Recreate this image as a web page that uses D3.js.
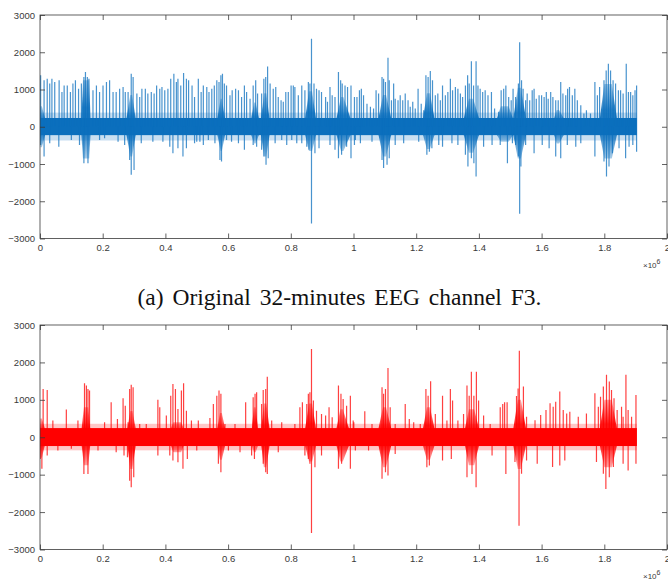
<!DOCTYPE html>
<html lang="en">
<head>
<meta charset="UTF-8">
<title>EEG channel F3</title>
<script src="https://cdn.jsdelivr.net/npm/d3@7"></script>
<style>
body{margin:0;background:#fff;}
.tick text{font-family:"Liberation Sans",Arial,sans-serif;font-size:9.5px;fill:#3a3a3a;}
.tick line{stroke:#3a3a3a;stroke-width:0.8px;}
.frame{fill:none;stroke:#3a3a3a;stroke-width:0.8px;}
.caption{font-family:"Liberation Serif","Times New Roman",serif;font-size:23.5px;word-spacing:3px;fill:#111;}
.expo{font-family:"Liberation Sans",Arial,sans-serif;font-size:8px;fill:#3a3a3a;}
</style>
</head>
<body>
<svg width="668" height="580"></svg>
<script>
// x values are in units of 10^6 samples, y in microvolts
var xTicks = [0, 0.2, 0.4, 0.6, 0.8, 1, 1.2, 1.4, 1.6, 1.8, 2];
var yTicks = [-3000, -2000, -1000, 0, 1000, 2000, 3000];
var signalEnd = 1.904;
var caption = "(a) Original 32-minutes EEG channel F3.";

// dense background band [upper, lower] and its ragged fringe
var coreA = [235, -225];
var fringeA = [380, -370];
var coreB = [245, -235];
var fringeB = [360, -350];

// bursts: [start, plateauStart, plateauEnd, end, top, bottom]
var burstsA = [
  [0.000, 0.001, 0.006, 0.016, 550, -550],
  [0.132, 0.137, 0.157, 0.161, 1250, -850],
  [0.276, 0.288, 0.294, 0.305, 850, -800],
  [0.566, 0.576, 0.580, 0.590, 750, -650],
  [0.674, 0.683, 0.688, 0.698, 650, -450],
  [0.705, 0.715, 0.722, 0.732, 900, -800],
  [0.846, 0.858, 0.868, 0.880, 950, -650],
  [0.946, 0.960, 0.968, 0.990, 800, -650],
  [1.080, 1.094, 1.104, 1.120, 850, -800],
  [1.222, 1.234, 1.244, 1.258, 900, -600],
  [1.352, 1.368, 1.382, 1.400, 750, -700],
  [1.458, 1.470, 1.495, 1.508, 550, -400],
  [1.510, 1.524, 1.534, 1.550, 1050, -850],
  [1.640, 1.648, 1.656, 1.670, 450, -450],
  [1.786, 1.800, 1.824, 1.840, 1150, -850]
];
var burstsB = [
  [0.000, 0.001, 0.006, 0.015, 500, -550],
  [0.133, 0.140, 0.154, 0.160, 800, -750],
  [0.279, 0.288, 0.295, 0.305, 700, -850],
  [0.418, 0.425, 0.450, 0.458, 400, -400],
  [0.566, 0.574, 0.580, 0.590, 650, -600],
  [0.676, 0.682, 0.688, 0.695, 800, -400],
  [0.706, 0.714, 0.722, 0.732, 900, -800],
  [0.846, 0.858, 0.868, 0.880, 900, -650],
  [0.946, 0.958, 0.966, 0.985, 750, -650],
  [1.080, 1.094, 1.104, 1.120, 800, -800],
  [1.222, 1.234, 1.244, 1.258, 800, -600],
  [1.356, 1.368, 1.385, 1.400, 750, -750],
  [1.510, 1.524, 1.534, 1.550, 1000, -850],
  [1.786, 1.800, 1.824, 1.840, 1000, -800]
];

// spikes [x, peak]
var upA = [
  [0.002,1380],[0.013,1250],[0.023,1290],[0.031,1160],[0.038,1290],[0.047,1200],[0.061,1250],[0.070,930],
  [0.077,1110],[0.087,1110],[0.097,930],[0.105,1160],[0.113,1250],[0.123,1020],[0.132,1160],[0.140,1335],
  [0.145,1470],[0.151,1335],[0.156,1290],[0.169,980],[0.180,1110],[0.190,930],[0.201,1110],[0.212,1200],
  [0.222,1250],[0.233,930],[0.243,930],[0.254,1020],[0.265,1070],[0.272,930],[0.281,930],[0.291,1420],
  [0.297,1335],[0.309,890],[0.318,800],[0.325,1020],[0.336,1020],[0.344,890],[0.355,930],[0.364,890],
  [0.372,1110],[0.382,1020],[0.389,1070],[0.398,980],[0.408,1020],[0.417,1290],[0.427,1420],[0.435,1200],
  [0.440,1290],[0.449,1110],[0.458,1440],[0.467,1290],[0.474,1250],[0.485,1110],[0.493,800],
  [0.505,1290],[0.514,935],[0.521,1110],[0.532,1070],[0.539,935],[0.548,1020],[0.556,1110],[0.564,1250],
  [0.571,1200],[0.577,1380],[0.582,1425],[0.588,1160],[0.595,1110],[0.606,845],[0.613,980],[0.624,1020],
  [0.633,980],[0.643,800],[0.652,1110],[0.659,935],[0.670,755],[0.680,1110],[0.688,1250],[0.694,890],
  [0.707,890],[0.714,1290],[0.720,1335],[0.726,1620],[0.734,1160],[0.744,1020],[0.752,1070],[0.760,800],
  [0.769,710],[0.776,670],[0.784,935],[0.792,935],[0.801,1110],[0.808,1110],[0.813,1070],[0.824,845],
  [0.835,1110],[0.845,980],[0.856,1200],[0.861,1160],[0.866,2360],[0.874,1160],[0.882,1020],[0.890,980],
  [0.898,935],[0.911,800],[0.917,670],[0.925,1070],[0.932,845],[0.941,800],[0.952,1470],[0.959,1250],
  [0.964,1160],[0.973,1110],[0.981,1070],[0.992,1110],[1.003,800],
  [1.011,800],[1.019,980],[1.025,1020],[1.032,845],[1.043,620],[1.054,535],[1.064,490],[1.072,980],
  [1.080,890],[1.091,1335],[1.096,1290],[1.102,1200],[1.110,1850],[1.114,1250],[1.121,710],[1.128,1160],
  [1.133,755],[1.142,710],[1.149,845],[1.157,710],[1.165,890],[1.174,710],[1.181,535],[1.189,670],
  [1.197,490],[1.206,1020],[1.216,620],[1.224,445],[1.231,1380],[1.238,1335],[1.245,1500],[1.252,1250],
  [1.261,845],[1.269,890],[1.277,710],[1.284,1110],[1.293,845],[1.301,935],[1.309,1290],[1.316,980],
  [1.325,1070],[1.333,1020],[1.341,890],[1.348,800],[1.357,1110],[1.364,1380],[1.369,1160],[1.376,1760],
  [1.383,1110],[1.391,1760],[1.397,1110],[1.404,1020],[1.412,935],[1.420,980],[1.429,845],[1.440,935],
  [1.450,490],[1.463,400],[1.471,980],[1.479,1020],[1.486,1110],[1.495,800],[1.503,710],
  [1.509,1020],[1.517,800],[1.526,1160],[1.530,2270],[1.536,1250],[1.541,1020],[1.549,710],[1.554,890],
  [1.562,710],[1.570,980],[1.576,1020],[1.583,755],[1.592,845],[1.600,845],[1.608,800],[1.615,935],
  [1.621,755],[1.629,935],[1.636,800],[1.645,710],[1.653,710],[1.661,1200],[1.668,890],[1.677,845],
  [1.683,1020],[1.689,1070],[1.698,845],[1.706,1020],[1.714,710],[1.725,580],[1.735,355],[1.743,445],
  [1.756,355],[1.770,1200],[1.778,845],[1.785,1070],[1.799,1250],[1.806,1510],[1.813,1690],[1.820,1510],
  [1.828,1250],[1.836,1160],[1.845,980],[1.852,980],[1.860,890],[1.870,1690],[1.877,935],[1.884,935],
  [1.891,845],[1.898,980],[1.903,1110]
];
var downA = [
  [0.002,-490],[0.013,-800],[0.031,-445],[0.060,-535],[0.100,-355],[0.126,-490],[0.140,-980],[0.153,-980],
  [0.190,-355],[0.206,-310],[0.249,-400],[0.270,-490],[0.286,-890],[0.291,-1290],[0.300,-1160],[0.323,-445],
  [0.360,-400],[0.392,-400],[0.414,-535],[0.424,-710],[0.440,-580],[0.456,-800],[0.467,-580],[0.493,-445],
  [0.500,-400],[0.510,-400],[0.521,-490],[0.537,-355],[0.558,-445],[0.574,-890],[0.579,-935],[0.595,-355],
  [0.611,-400],[0.633,-445],[0.652,-620],[0.680,-490],[0.691,-535],[0.707,-620],[0.714,-800],[0.721,-1020],
  [0.728,-845],[0.750,-445],[0.771,-355],[0.787,-490],[0.803,-355],[0.819,-445],[0.835,-445],[0.851,-535],
  [0.858,-620],[0.866,-2600],[0.877,-710],[0.890,-580],[0.925,-490],[0.941,-620],[0.952,-845],[0.962,-755],
  [0.978,-535],[0.992,-845],[1.003,-490],
  [1.006,-355],[1.022,-445],[1.059,-400],[1.091,-890],[1.096,-1110],[1.107,-1020],[1.114,-845],[1.133,-490],
  [1.160,-445],[1.208,-400],[1.234,-755],[1.242,-670],[1.250,-580],[1.272,-490],[1.284,-535],[1.314,-445],
  [1.333,-490],[1.357,-755],[1.365,-1070],[1.376,-845],[1.384,-980],[1.391,-1335],[1.415,-535],[1.442,-490],
  [1.468,-490],[1.491,-980],
  [1.507,-445],[1.517,-490],[1.526,-800],[1.530,-2335],[1.534,-1070],[1.549,-490],[1.576,-710],[1.602,-490],
  [1.624,-580],[1.645,-800],[1.661,-845],[1.682,-490],[1.709,-535],[1.725,-445],[1.770,-800],[1.799,-935],
  [1.807,-1335],[1.815,-1070],[1.826,-710],[1.847,-580],[1.868,-845],[1.879,-535],[1.891,-490],[1.903,-670]
];
var upB = [
  [0.010,1290],[0.023,1265],[0.041,445],[0.084,740],[0.121,445],[0.142,1440],[0.148,1380],[0.153,1290],
  [0.158,1250],[0.206,400],[0.227,935],[0.247,490],[0.265,1040],[0.272,845],[0.281,400],[0.286,1290],
  [0.291,1400],[0.297,1335],[0.318,355],[0.339,355],[0.376,1000],[0.382,800],[0.403,580],[0.417,1110],
  [0.424,1425],[0.432,1290],[0.440,755],[0.451,1250],[0.458,1440],[0.467,710],[0.483,445],
  [0.505,445],[0.542,515],[0.553,890],[0.564,1110],[0.571,1250],[0.577,1160],[0.590,355],[0.622,355],
  [0.656,935],[0.680,1070],[0.686,1160],[0.691,1200],[0.707,890],[0.712,1265],[0.720,1290],[0.725,1620],
  [0.739,445],[0.771,400],[0.813,355],[0.829,800],[0.837,935],[0.851,890],[0.856,1160],[0.861,1200],
  [0.866,2360],[0.872,980],[0.882,710],[0.898,620],[0.911,580],[0.922,800],[0.932,535],[0.952,1380],
  [0.960,1160],[0.967,1020],[0.978,845],[0.990,1110],[0.999,445],
  [1.001,400],[1.036,695],[1.059,355],[1.091,1335],[1.096,1160],[1.102,1290],[1.110,1850],[1.117,800],
  [1.133,355],[1.165,890],[1.178,490],[1.192,400],[1.213,355],[1.231,1290],[1.238,1110],[1.246,1500],
  [1.261,620],[1.284,1110],[1.298,445],[1.309,1290],[1.316,980],[1.333,445],[1.351,620],[1.362,1380],
  [1.369,1110],[1.376,1750],[1.384,1110],[1.392,1750],[1.399,980],[1.415,580],[1.436,355],[1.468,800],
  [1.476,890],[1.482,935],[1.490,935],
  [1.520,1100],[1.525,1300],[1.529,2314],[1.542,1354],[1.552,547],[1.579,457],[1.597,592],[1.614,727],
  [1.627,906],[1.637,816],[1.645,951],[1.658,1220],[1.669,727],[1.680,637],[1.690,682],[1.717,547],
  [1.743,637],[1.770,1175],[1.781,816],[1.788,1085],[1.797,1354],[1.807,1668],[1.816,1489],[1.823,1265],
  [1.831,1040],[1.841,727],[1.855,816],[1.860,547],[1.869,1668],[1.876,727],[1.887,547],[1.901,1130]
];
var downB = [
  [0.001,-580],[0.006,-845],[0.023,-490],[0.057,-355],[0.100,-310],[0.140,-980],[0.153,-980],[0.185,-355],
  [0.243,-400],[0.268,-490],[0.279,-535],[0.286,-1160],[0.291,-1335],[0.299,-1070],[0.376,-490],[0.414,-490],
  [0.424,-620],[0.440,-670],[0.456,-845],[0.470,-580],
  [0.500,-355],[0.569,-710],[0.577,-935],[0.601,-355],[0.638,-400],[0.675,-490],[0.684,-580],[0.712,-710],
  [0.720,-935],[0.725,-980],[0.760,-400],[0.845,-490],[0.856,-580],[0.861,-710],[0.866,-2560],[0.877,-800],
  [0.898,-490],[0.952,-845],[0.962,-710],[0.990,-845],
  [1.006,-355],[1.048,-355],[1.091,-1110],[1.102,-935],[1.110,-1020],[1.133,-445],[1.234,-800],[1.242,-755],
  [1.284,-620],[1.312,-580],[1.362,-1070],[1.378,-980],[1.391,-1335],[1.442,-490],[1.486,-980],
  [1.515,-664],[1.528,-2368],[1.536,-978],[1.552,-619],[1.586,-709],[1.635,-798],[1.658,-753],[1.674,-619],
  [1.775,-664],[1.797,-978],[1.805,-1381],[1.816,-1067],[1.829,-798],[1.860,-709],[1.876,-888],[1.901,-709]
];

var svg = d3.select("svg");
var defs = svg.append("defs");
var x = d3.scaleLinear().domain([0, 2]).range([40, 667]);

function drawPanel(id, top, bottom, color, core, fringe, bursts, ups, downs){
  var y = d3.scaleLinear().domain([-3000, 3000]).range([bottom, top]);
  var g = svg.append("g");

  defs.append("clipPath").attr("id", "clip" + id)
    .append("rect").attr("x", x(0)).attr("y", top)
    .attr("width", x(2) - x(0)).attr("height", bottom - top);

  // bursts fade towards their tips, like the thinning spikes
  var grad = defs.append("linearGradient").attr("id", "fade" + id)
    .attr("x1", 0).attr("x2", 0).attr("y1", 0).attr("y2", 1);
  grad.append("stop").attr("offset", "0%").attr("stop-color", color).attr("stop-opacity", 0.35);
  grad.append("stop").attr("offset", "35%").attr("stop-color", color).attr("stop-opacity", 0.9);
  grad.append("stop").attr("offset", "65%").attr("stop-color", color).attr("stop-opacity", 0.9);
  grad.append("stop").attr("offset", "100%").attr("stop-color", color).attr("stop-opacity", 0.35);

  var plot = g.append("g").attr("clip-path", "url(#clip" + id + ")");

  plot.append("rect")
    .attr("x", x(0)).attr("width", x(signalEnd) - x(0))
    .attr("y", y(fringe[0])).attr("height", y(fringe[1]) - y(fringe[0]))
    .attr("fill", color).attr("fill-opacity", 0.22);

  plot.append("rect")
    .attr("x", x(0)).attr("width", x(signalEnd) - x(0))
    .attr("y", y(core[0])).attr("height", y(core[1]) - y(core[0]))
    .attr("fill", color);

  var line = d3.line().x(function(d){ return x(d[0]); }).y(function(d){ return y(d[1]); });
  plot.selectAll("path.burst").data(bursts).enter().append("path")
    .attr("class", "burst")
    .attr("d", function(b){
      return line([[b[0], core[0]], [b[1], b[4]], [b[2], b[4]], [b[3], core[0]],
                   [b[3], core[1]], [b[2], b[5]], [b[1], b[5]], [b[0], core[1]]]) + "Z";
    })
    .attr("fill", "url(#fade" + id + ")");

  plot.selectAll("line.spike").data(ups.concat(downs)).enter().append("line")
    .attr("class", "spike")
    .attr("x1", function(d){ return x(d[0]); }).attr("x2", function(d){ return x(d[0]); })
    .attr("y1", y(0)).attr("y2", function(d){ return y(d[1]); })
    .attr("stroke", color).attr("stroke-width", 1.2).attr("stroke-opacity", 0.75);

  // axes, MATLAB style ticks pointing inwards
  g.append("g").attr("transform", "translate(0," + bottom + ")")
    .call(d3.axisBottom(x).tickValues(xTicks).tickSizeInner(-5).tickSizeOuter(0).tickPadding(6)
      .tickFormat(d3.format("~g")))
    .call(function(a){ a.select(".domain").remove(); });
  g.append("g").attr("transform", "translate(0," + top + ")")
    .call(d3.axisTop(x).tickValues(xTicks).tickSizeInner(-5).tickSizeOuter(0).tickFormat(""))
    .call(function(a){ a.select(".domain").remove(); });
  g.append("g").attr("transform", "translate(" + x(0) + ",0)")
    .call(d3.axisLeft(y).tickValues(yTicks).tickSizeInner(-5).tickSizeOuter(0).tickPadding(5)
      .tickFormat(d3.format("d")))
    .call(function(a){ a.select(".domain").remove(); });
  g.append("g").attr("transform", "translate(" + x(2) + ",0)")
    .call(d3.axisRight(y).tickValues(yTicks).tickSizeInner(-5).tickSizeOuter(0).tickFormat(""))
    .call(function(a){ a.select(".domain").remove(); });

  g.append("rect").attr("class", "frame")
    .attr("x", x(0)).attr("y", top).attr("width", x(2) - x(0)).attr("height", bottom - top);

  var ex = g.append("text").attr("class", "expo").attr("x", 643).attr("y", bottom + 29.5);
  ex.append("tspan").text("\u00d710");
  ex.append("tspan").attr("dy", -4).attr("font-size", "7px").text("6");
}

drawPanel("A", 15, 238.5, "#0b6fbd", coreA, fringeA, burstsA, upA, downA);
drawPanel("B", 325, 549.5, "#ff0000", coreB, fringeB, burstsB, upB, downB);

svg.append("text").attr("class", "caption")
  .attr("x", 339.5).attr("y", 305).attr("text-anchor", "middle")
  .text(caption);
</script>
</body>
</html>
